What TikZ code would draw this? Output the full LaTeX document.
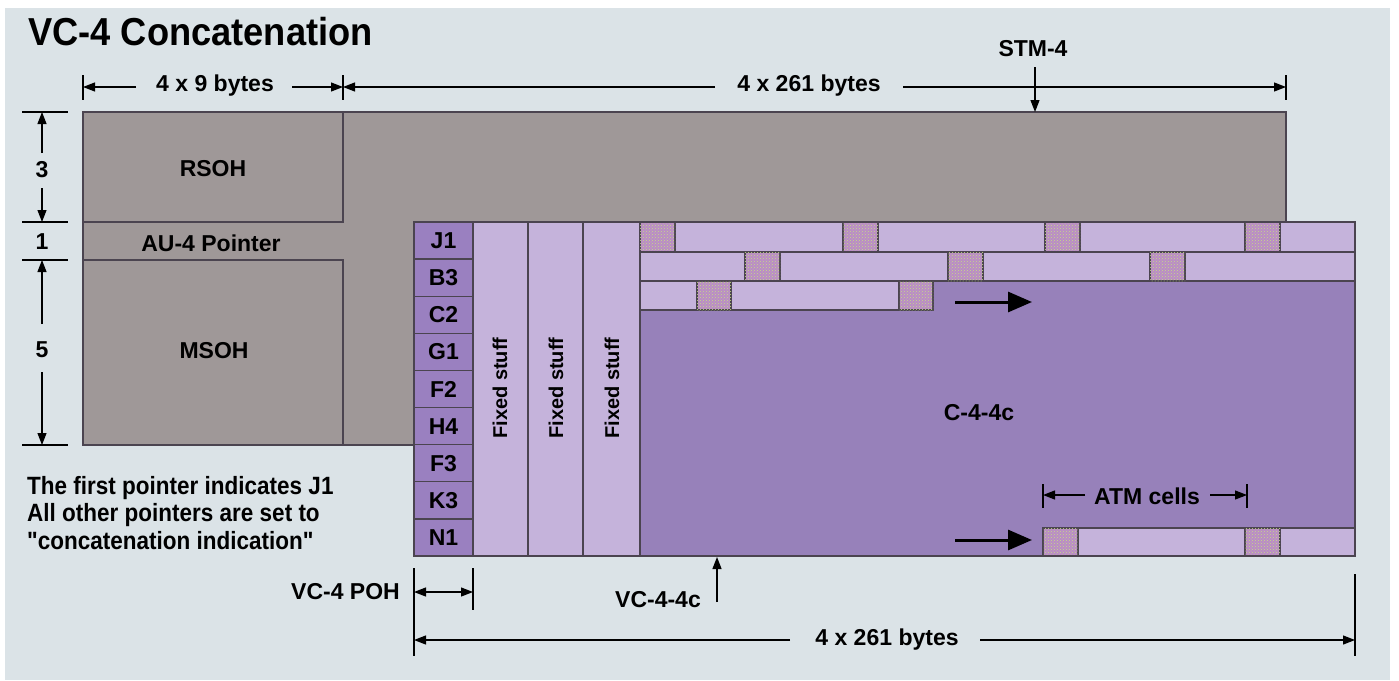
\documentclass[tikz,border=0pt]{standalone}
\usepackage{fontspec}
\setmainfont{Liberation Sans}
\newfontfamily\ttlfont{Liberation Sans}[FakeStretch=0.93]
\newfontfamily\descfont{Liberation Sans}[FakeStretch=0.9]
\usetikzlibrary{arrows.meta,patterns}
\definecolor{bgcol}{RGB}{219,227,231}
\definecolor{graycol}{RGB}{159,152,152}
\definecolor{purcol}{RGB}{151,129,186}
\definecolor{pohcol}{RGB}{154,128,192}
\definecolor{lightpur}{RGB}{197,179,219}
\definecolor{hdrcol}{RGB}{186,138,200}
\definecolor{speck}{RGB}{196,224,130}
\definecolor{linecol}{RGB}{75,68,80}
\tikzset{
  lbl/.style={font=\fontsize{23}{26}\selectfont\bfseries, inner sep=1pt},
  fixlbl/.style={font=\fontsize{20}{24}\selectfont\bfseries, inner sep=1pt, rotate=90},
  desc/.style={font=\descfont\fontsize{25}{28}\selectfont\bfseries, inner sep=0pt, anchor=west},
  title/.style={font=\ttlfont\fontsize{39}{42}\selectfont\bfseries, inner sep=0pt, anchor=west},
  box/.style={draw=linecol, line width=1.4pt},
  pohcell/.style={box, fill=pohcol, minimum width=59pt, minimum height=37.11pt, inner sep=0pt, font=\fontsize{23}{26}\selectfont\bfseries},
  fixcol/.style={box, fill=lightpur},
  paycell/.style={box, fill=lightpur},
  hdrcell/.style={box, fill=hdrcol, postaction={pattern=crosshatch dots, pattern color=speck}},
  dim/.style={line width=1.2pt, -{Triangle[length=12pt,width=9pt]}},
  dimtick/.style={line width=1.2pt},
  bigarrow/.style={line width=3pt, -{Triangle[length=24pt,width=20pt]}},
}
\begin{document}
\begin{tikzpicture}[x=1pt,y=-1pt]
\useasboundingbox (0,0) rectangle (1399,680);
\fill[white] (0,0) rectangle (1399,680);
\fill[bgcol] (5,8) rectangle (1390,680);

% title
\node[title] (ttl) at (28,32) {VC-4 Concatenation};

% STM-4 frame
\draw[box, fill=graycol] (83,112) -- (1286,112) -- (1286,222) -- (414,222) -- (414,445) -- (83,445) -- cycle;
\draw[box] (83,222) -- (343,222) -- (343,112);
\draw[box] (83,260) -- (343,260) -- (343,445);
\node[lbl] (rsoh) at (213,169) {RSOH};
\node[lbl] (au4) at (211,243) {AU-4 Pointer};
\node[lbl] (msoh) at (214,351) {MSOH};

% left row dimensions
\foreach \yy in {112,222,260,445} \draw[dimtick] (22,\yy) -- (68,\yy);
\node[lbl] (r3) at (42,170) {3};
\node[lbl] (r1) at (42,242) {1};
\node[lbl] (r5) at (42,350) {5};
\coordinate (r3t) at (42,112); \coordinate (r3b) at (42,222);
\coordinate (r5t) at (42,260); \coordinate (r5b) at (42,445);
\draw[dim] (42,153) -- (r3t);
\draw[dim] (42,188) -- (r3b);
\draw[dim] (42,324) -- (r5t);
\draw[dim] (42,372) -- (r5b);

% top dimensions
\foreach \xx in {83,343,1286} \draw[dimtick] (\xx,75) -- (\xx,100);
\coordinate (t0) at (83,87); \coordinate (t1) at (343,87); \coordinate (t2) at (1286,87);
\node[lbl] (d9) at (215,86) {4 x 9 bytes};
\node[lbl] (d261) at (809,86) {4 x 261 bytes};
\draw[dim] (136,87) -- (t0);
\draw[dim] (292,87) -- (t1);
\draw[dim] (715,87) -- (t1);
\draw[dim] (903,87) -- (t2);

% STM-4 label
\node[lbl] (stm) at (1033,49) {STM-4};
\coordinate (stmtip) at (1035,112);
\draw[dim] (1035,67) -- (stmtip);

% VC-4-4c area
\draw[box, fill=purcol] (414,222) rectangle (1355,556);
% POH column
\foreach \lab [count=\i from 0] in {J1,B3,C2,G1,F2,H4,F3,K3,N1}
  \node[pohcell] (\lab) at (443.5,{222+37.11*\i+18.55}) {\lab};
% fixed stuff columns
\draw[fixcol] (473,222) rectangle (528,556);
\draw[fixcol] (528,222) rectangle (583,556);
\draw[fixcol] (583,222) rectangle (640,556);
\node[fixlbl] (fs1) at (500,388) {Fixed stuff};
\node[fixlbl] (fs2) at (556,388) {Fixed stuff};
\node[fixlbl] (fs3) at (612,388) {Fixed stuff};

% ATM cell rows
\draw[paycell] (640,222) rectangle (1355,252);
\foreach \xx in {640,843,1045,1245} \draw[hdrcell] (\xx,222) rectangle ++(35,30);
\draw[paycell] (640,252) rectangle (1355,281);
\foreach \xx in {745,948,1150} \draw[hdrcell] (\xx,252) rectangle ++(35,29);
\draw[paycell] (640,281) rectangle (932,310);
\foreach \xx in {697,899} \draw[hdrcell] (\xx,281) rectangle ++(34,29);
\draw[paycell] (1043,528) rectangle (1355,556);
\foreach \xx in {1043,1245} \draw[hdrcell] (\xx,528) rectangle ++(35,28);
\draw[box] (414,222) rectangle (1355,556);

\coordinate (a1s) at (955,302); \coordinate (a1e) at (1032,302);
\coordinate (a2s) at (955,540); \coordinate (a2e) at (1032,540);
\draw[bigarrow] (a1s) -- (a1e);
\draw[bigarrow] (a2s) -- (a2e);

\node[lbl] (c44) at (979,413) {C-4-4c};

% ATM cells dimension
\draw[dimtick] (1043,484) -- (1043,508);
\draw[dimtick] (1247,484) -- (1247,508);
\node[lbl] (atm) at (1147,496) {ATM cells};
\coordinate (atml) at (1043,495); \coordinate (atmr) at (1247,495);
\draw[dim] (1085,495) -- (atml);
\draw[dim] (1210,495) -- (atmr);

% description
\node[desc] (dl1) at (27,488) {The first pointer indicates J1};
\node[desc] (dl2) at (27,515) {All other pointers are set to};
\node[desc] (dl3) at (27,541) {"concatenation indication"};

% VC-4 POH dimension
\node[lbl, anchor=east] (vcpoh) at (401,592) {VC-4 POH};
\draw[dimtick] (414,568) -- (414,656);
\draw[dimtick] (473,568) -- (473,610);
\coordinate (p0) at (414,592); \coordinate (p1) at (473,592);
\draw[line width=1.2pt, {Triangle[length=12pt,width=9pt]}-{Triangle[length=12pt,width=9pt]}] (p0) -- (p1);

% VC-4-4c label
\node[lbl] (vc44) at (658,600) {VC-4-4c};
\coordinate (vctip) at (717,557);
\draw[dim] (717,602) -- (vctip);

% bottom dimension
\draw[dimtick] (1355,574) -- (1355,656);
\node[lbl] (b261) at (887,640) {4 x 261 bytes};
\coordinate (b0) at (414,640); \coordinate (b1) at (1355,640);
\draw[dim] (790,640) -- (b0);
\draw[dim] (980,640) -- (b1);
\end{tikzpicture}
\end{document}
